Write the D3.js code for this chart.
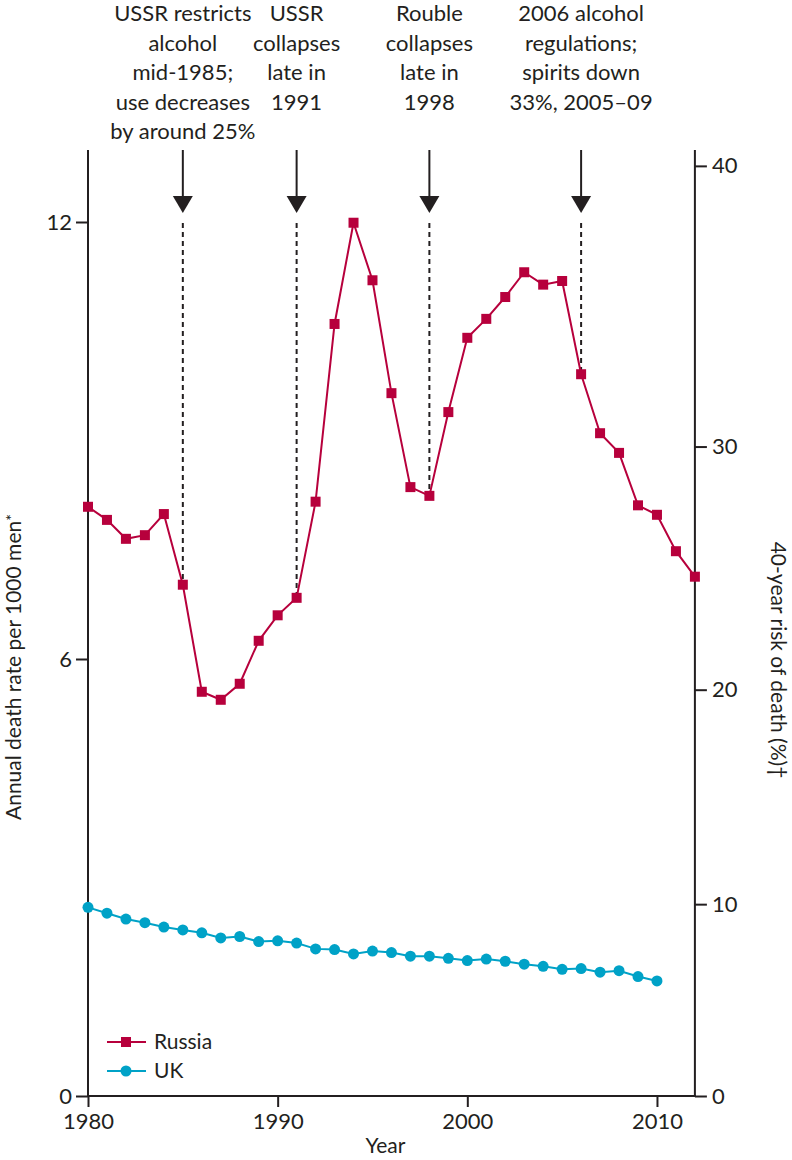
<!DOCTYPE html>
<html>
<head>
<meta charset="utf-8">
<script src="https://cdn.jsdelivr.net/npm/d3@7"></script>
<style>
  body { margin: 0; background: white; }
  svg text { font-family: Lato, "Open Sans", sans-serif; fill: #231f20; }
</style>
</head>
<body>
<script>
// data
const years = d3.range(1980, 2013);
const russia = [8.09, 7.91, 7.65, 7.70, 7.99, 7.02, 5.55, 5.44, 5.66, 6.25,
                6.60, 6.84, 8.16, 10.60, 11.99, 11.20, 9.65, 8.36, 8.24, 9.39,
                10.41, 10.67, 10.97, 11.31, 11.14, 11.19, 9.91, 9.10, 8.83, 8.11,
                7.98, 7.48, 7.13];
const ukYears = d3.range(1980, 2011);
const uk = [2.59, 2.51, 2.43, 2.38, 2.32, 2.28, 2.24, 2.17, 2.19, 2.12,
            2.13, 2.10, 2.02, 2.01, 1.95, 1.99, 1.97, 1.92, 1.92, 1.89,
            1.86, 1.88, 1.85, 1.81, 1.78, 1.74, 1.75, 1.70, 1.72, 1.64, 1.58];
const eventYears = [1985, 1991, 1998, 2006];
const eventLabels = [
  ["USSR restricts", "alcohol", "mid-1985;", "use decreases", "by around 25%"],
  ["USSR", "collapses", "late in", "1991"],
  ["Rouble", "collapses", "late in", "1998"],
  ["2006 alcohol", "regulations;", "spirits down", "33%, 2005\u201309"]
];
const xTicks = [1980, 1990, 2000, 2010];
const leftTicks = [0, 6, 12];
const rightTicks = [0, 10, 20, 30, 40];

const W = 792, H = 1160;
const axisTop = 150;
const colRussia = "#b7003c", colUK = "#00a2c7", ink = "#231f20";

const svg = d3.select("body").append("svg").attr("width", W).attr("height", H);

const x = d3.scaleLinear().domain([1980, 2012]).range([88, 694.9]);
const y = d3.scaleLinear().domain([0, 12]).range([1096, 222]);
// 40-year risk (%) -> annual rate per 1000
const riskToRate = p => -25 * Math.log(1 - p / 100);

// axes
const xAxis = d3.axisBottom(x).tickValues(xTicks).tickFormat(d3.format("d")).tickSize(11).tickSizeOuter(0).tickPadding(6);
const gx = svg.append("g").attr("transform", `translate(0,${y(0)})`).call(xAxis);
gx.select(".domain").remove();

const yAxis = d3.axisLeft(y).tickValues(leftTicks).tickSize(12).tickPadding(4);
const gy = svg.append("g").attr("transform", `translate(${x(1980)},0)`).call(yAxis);
gy.select(".domain").remove();

const yAxisR = d3.axisRight(y).tickValues(rightTicks.map(riskToRate))
  .tickFormat((d, i) => rightTicks[i]).tickSize(12).tickPadding(5);
const gyr = svg.append("g").attr("transform", `translate(${x(2012)},0)`).call(yAxisR);
gyr.select(".domain").remove();

svg.selectAll(".tick line").attr("stroke", ink).attr("stroke-width", 2);
svg.selectAll(".tick text").attr("font-size", 22).attr("fill", ink);

// axis lines
svg.append("line").attr("x1", x(1980)).attr("x2", x(1980)).attr("y1", axisTop).attr("y2", y(0))
  .attr("stroke", ink).attr("stroke-width", 2);
svg.append("line").attr("x1", x(2012)).attr("x2", x(2012)).attr("y1", axisTop).attr("y2", y(0))
  .attr("stroke", ink).attr("stroke-width", 2);
svg.append("line").attr("x1", x(1980) - 1).attr("x2", x(2012) + 1).attr("y1", y(0)).attr("y2", y(0))
  .attr("stroke", ink).attr("stroke-width", 2);

// axis titles
svg.append("text").attr("transform", `translate(21,667) rotate(-90)`).attr("text-anchor", "middle")
  .attr("font-size", 21).html('Annual death rate per 1000 men<tspan dy="-4" font-size="16">*</tspan>');
svg.append("text").attr("transform", `translate(771,660) rotate(90)`).attr("text-anchor", "middle")
  .attr("font-size", 21).text("40-year risk of death (%)\u2020");
svg.append("text").attr("x", (x(1980) + x(2012)) / 2 - 6).attr("y", 1153).attr("text-anchor", "middle")
  .attr("font-size", 21).text("Year");

// event annotations
const rusByYear = new Map(years.map((yr, i) => [yr, russia[i]]));
eventYears.forEach((yr, i) => {
  const ex = x(yr);
  const t = svg.append("text").attr("text-anchor", "middle").attr("font-size", 22);
  eventLabels[i].forEach((line, j) => {
    t.append("tspan").attr("x", ex).attr("y", 21 + j * 29.5).text(line);
  });
  svg.append("line").attr("x1", ex).attr("x2", ex).attr("y1", axisTop).attr("y2", 200)
    .attr("stroke", ink).attr("stroke-width", 2);
  svg.append("path").attr("d", `M${ex - 10},196 L${ex + 10},196 L${ex},213 Z`).attr("fill", ink);
  svg.append("line").attr("x1", ex).attr("x2", ex).attr("y1", 223).attr("y2", y(rusByYear.get(yr)))
    .attr("stroke", ink).attr("stroke-width", 2).attr("stroke-dasharray", "5,4");
});

// series
const line = d3.line();
svg.append("path").attr("d", line(years.map((yr, i) => [x(yr), y(russia[i])])))
  .attr("fill", "none").attr("stroke", colRussia).attr("stroke-width", 2);
svg.selectAll("rect.rus").data(years).join("rect").attr("class", "rus")
  .attr("x", (d, i) => x(d) - 5).attr("y", (d, i) => y(russia[i]) - 5)
  .attr("width", 10).attr("height", 10).attr("fill", colRussia);

svg.append("path").attr("d", line(ukYears.map((yr, i) => [x(yr), y(uk[i])])))
  .attr("fill", "none").attr("stroke", colUK).attr("stroke-width", 2);
svg.selectAll("circle.uk").data(ukYears).join("circle").attr("class", "uk")
  .attr("cx", d => x(d)).attr("cy", (d, i) => y(uk[i])).attr("r", 5.5).attr("fill", colUK);

// legend
const legend = [{name: "Russia", col: colRussia, shape: "square", yy: 1042},
                {name: "UK", col: colUK, shape: "circle", yy: 1071}];
legend.forEach(l => {
  svg.append("line").attr("x1", 107).attr("x2", 146).attr("y1", l.yy).attr("y2", l.yy)
    .attr("stroke", l.col).attr("stroke-width", 2);
  if (l.shape === "square")
    svg.append("rect").attr("x", 121).attr("y", l.yy - 5).attr("width", 10).attr("height", 10).attr("fill", l.col);
  else
    svg.append("circle").attr("cx", 126).attr("cy", l.yy).attr("r", 5.5).attr("fill", l.col);
  svg.append("text").attr("x", 154).attr("y", l.yy + 7).attr("font-size", 21).text(l.name);
});
</script>
</body>
</html>
